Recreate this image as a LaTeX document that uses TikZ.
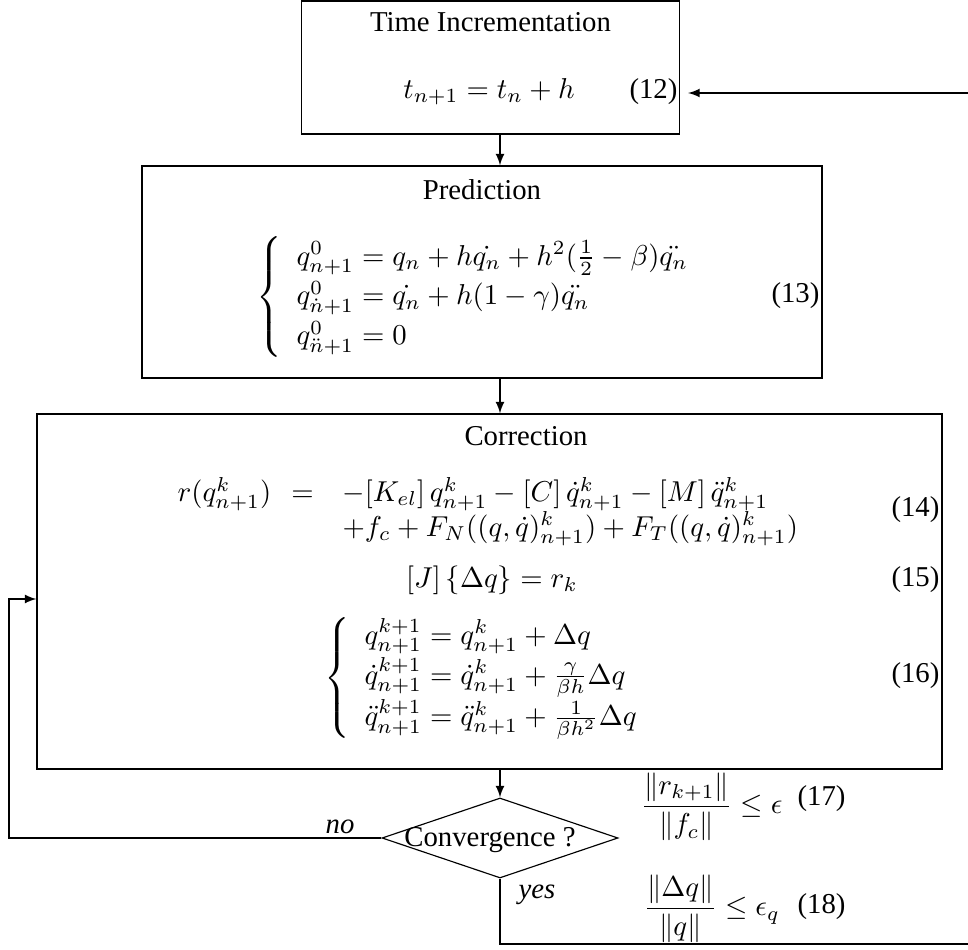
\documentclass[tikz,border=0pt]{standalone}
\usepackage{amsmath,amssymb}
\usepackage[no-math]{fontspec}
\setmainfont{Liberation Serif}
\usetikzlibrary{shapes,arrows,positioning}
\def\px{0.3477pt}

\begin{document}
\begin{tikzpicture}[x=\px, y=-\px, >=latex, auto]
  \tikzset{stepbox/.style={draw, inner sep=0pt},
    decision/.style={draw, diamond, inner sep=0pt, minimum width=236*\px, minimum height=80*\px},
    eqnum/.style={anchor=east, inner sep=0pt},
    eqblock/.style={anchor=west, inner sep=0pt}}
  \useasboundingbox (0,0) rectangle (968,950);
  % time step
  \node[stepbox, minimum width=378*\px, minimum height=133*\px] (timebox) at (490.5,67.5) {};
  \node (timetitle) at (490.5,22) {Time Incrementation};
  \node (timeeq) at (489,92) {$t_{n+1} = t_n + h$};
  \node[eqnum] (num12) at (678,92) {(12)};
  % predictor
  \node[stepbox, minimum width=680*\px, minimum height=212*\px] (predbox) at (482,272) {};
  \node (predtitle) at (482,190) {Prediction};
  \node[eqblock] (predeq) at (256,297) {$\renewcommand{\arraystretch}{1.15}\left\{\begin{array}{l}
      q^0_{n+1} = q_n + h\dot{q_n} + h^2(\frac{1}{2}-\beta)\ddot{q_n}\\
      q^0_{\dot{n}+1} = \dot{q_n} + h(1-\gamma)\ddot{q_n}\\
      q^0_{\ddot{n}+1} = 0
    \end{array}\right.$};
  \node[eqnum] (num13) at (820,296) {(13)};
  % corrector
  \node[stepbox, minimum width=905*\px, minimum height=355*\px] (corrbox) at (489.5,591.5) {};
  \node (corrtitle) at (526,436) {Correction};
  \node[eqblock] (correq) at (177,512) {$\begin{array}{@{}r@{\hspace{7pt}}c@{\hspace{10pt}}l@{}}
      r(q^k_{n+1}) & = & -[K_{el}]\,q^k_{n+1} - [C]\,\dot q^k_{n+1} - [M]\,\ddot q^k_{n+1}\\
      & & +f_c + F_N((q,\dot q)^k_{n+1}) + F_T((q,\dot q)^k_{n+1})
    \end{array}$};
  \node[eqnum] (num14) at (940,510) {(14)};
  \node (jaceq) at (492,580) {$[J]\,\{\Delta q\} = r_k$};
  \node[eqnum] (num15) at (940,580) {(15)};
  \node[eqblock] (updeq) at (324,678) {$\renewcommand{\arraystretch}{1.15}\left\{\begin{array}{l}
      q^{k+1}_{n+1} = q^k_{n+1} + \Delta q\\
      \dot q^{k+1}_{n+1} = \dot q^k_{n+1} + \frac{\gamma}{\beta h}\Delta q\\
      \ddot q^{k+1}_{n+1} = \ddot q^k_{n+1} + \frac{1}{\beta h^2}\Delta q
    \end{array}\right.$};
  \node[eqnum] (num16) at (940,676) {(16)};
  % convergence test
  \node[decision] (conv) at (500,838) {};
  \node (convtext) at (490,840) {Convergence ?};
  \node[anchor=base west, inner sep=0pt] (crit17) at (640,814) {$\dfrac{\|r_{k+1}\|}{\|f_c\|} \leq \epsilon$};
  \node[anchor=base west, inner sep=0pt] (num17) at (797,806) {(17)};
  \node[anchor=base west, inner sep=0pt] (crit18) at (643,916) {$\dfrac{\|\Delta q\|}{\|q\|} \leq \epsilon_q$};
  \node[anchor=base west, inner sep=0pt] (num18) at (797,914) {(18)};
  \node[anchor=base, inner sep=0pt, font=\itshape] (nolbl) at (340,834) {no};
  \node[font=\itshape] (yeslbl) at (537,895) {yes};
  \coordinate (noback) at (9,599);
  \coordinate (yesturn) at (975,944);
  \coordinate (backtop) at (975,93);
  \draw[->] (timebox.south -| conv) -- (predbox.north -| conv);
  \draw[->] (predbox.south -| conv) -- (corrbox.north -| conv);
  \draw[->] (corrbox.south -| conv) -- (conv.north);
  \draw[->] (conv.west) -- (conv.west -| noback) -- (noback) -- (corrbox.west |- noback);
  \draw[->, shorten >=2.8pt] (conv.south) |- (yesturn) -- (backtop) -- (timebox.east |- backtop);
\end{tikzpicture}
\end{document}
